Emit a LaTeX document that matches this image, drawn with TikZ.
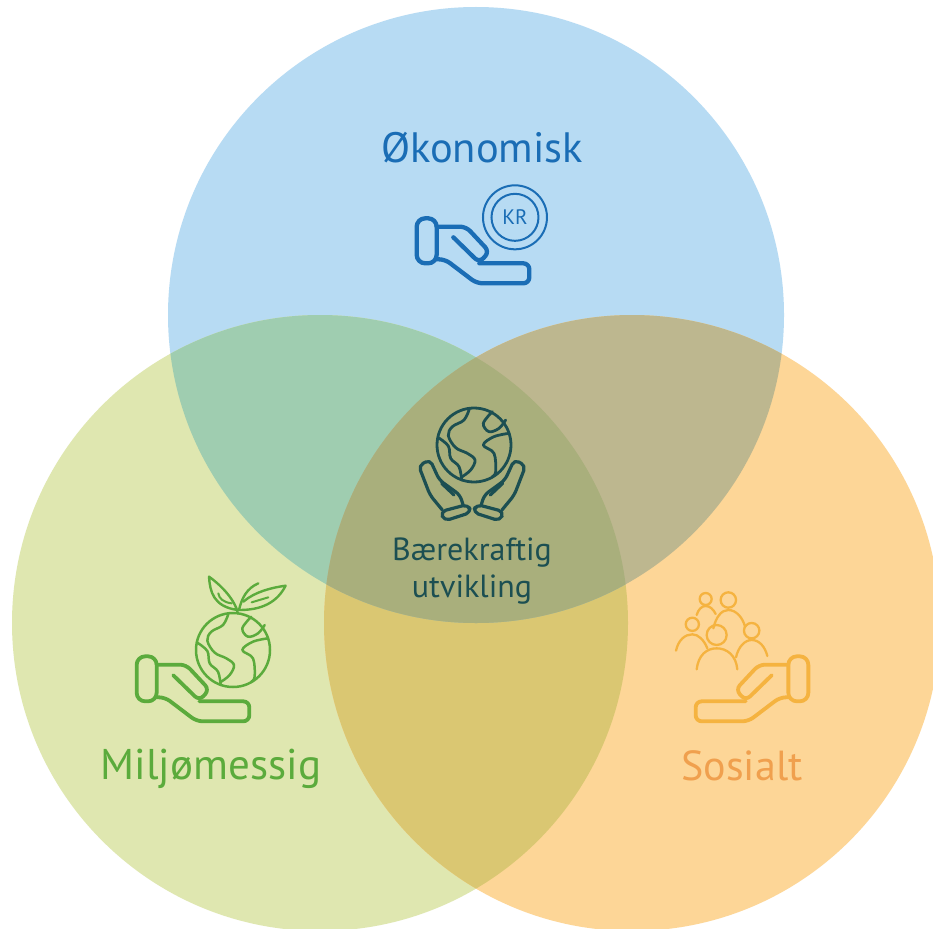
\documentclass[tikz,border=0pt]{standalone}
\usepackage{fontspec}
\setmainfont{PT Sans}
\definecolor{ctop}{HTML}{B7DBF3}
\definecolor{cleft}{HTML}{DFE7B0}
\definecolor{cright}{HTML}{FDD697}
\definecolor{ctl}{HTML}{9FCDB0}
\definecolor{ctr}{HTML}{BDB78F}
\definecolor{clr}{HTML}{DAC772}
\definecolor{cmid}{HTML}{A9AF7C}
\definecolor{tblue}{HTML}{1A6DB5}
\definecolor{tgreen}{HTML}{5BAB3C}
\definecolor{torange}{HTML}{F0A04E}
\definecolor{iorange}{HTML}{F5B340}
\definecolor{tdark}{HTML}{1C4F52}
\tikzset{
  line/.style={line cap=round,line join=round},
  label/.style={inner sep=0pt,anchor=center},
}
% open hand, drawn in local units
\newcommand{\openhand}[1]{%
  \draw[line,#1,rounded corners=8.5pt] (140,295) rectangle (200,430);
  \draw[line,#1,rounded corners=6pt] (200,320) -- (288,320) -- (358,395) -- (328,428) -- (250,352);
  \draw[line,#1,rounded corners=6pt] (328,430) -- (478,430) -- (478,490) -- (320,490) -- (225,418) -- (200,418);
}
% cupped hand of the centre icon, in local units
\newcommand{\cupped}{%
  \draw[line,tdark,line width=3.2pt,rounded corners=5pt] (187,345) -- (150,300) -- (116,212) -- (150,194) -- (178,255) -- (240,300) -- (250,332);
  \draw[line,tdark,line width=3.2pt] (185,265) -- (222,300);
  \draw[line,tdark,line width=3.2pt,rounded corners=5.5pt] (181,350) -- (264,328) -- (274,352) -- (193,378) -- cycle;
}
% globe, drawn in local units about the origin
\newcommand{\globelines}[1]{%
  \draw[line,#1] (0,0) circle[radius=37pt];
  \draw[line,#1] plot[smooth,tension=.6] coordinates {(-14,-108) (-30,-75) (-65,-55) (-77,-28) (-55,8) (-20,25) (3,45) (-10,75) (-37,96)};
  \draw[line,#1] plot[smooth,tension=.6] coordinates {(-107,-22) (-77,3) (-70,40) (-45,65) (-37,105)};
  \draw[line,#1] plot[smooth,tension=.6] coordinates {(55,-100) (28,-65) (45,-40) (75,-50) (95,-75)};
  \draw[line,#1] plot[smooth,tension=.6] coordinates {(105,-35) (60,-25) (28,0) (60,25) (65,80) (55,95)};
}
\begin{document}
\begin{tikzpicture}[x=1pt,y=-1pt]
\useasboundingbox (0,0) rectangle (933,928);
\fill[white] (0,0) rectangle (933,928);
\coordinate (T) at (476,315);
\coordinate (L) at (320,623);
\coordinate (R) at (632,623);
\begin{scope}
\clip (0,0) rectangle (933,928);
\fill[ctop] (T) circle[radius=308pt];
\fill[cleft] (L) circle[radius=308pt];
\fill[cright] (R) circle[radius=308pt];
\begin{scope}
 \clip (L) circle[radius=308pt];
 \fill[clr] (R) circle[radius=308pt];
\end{scope}
\begin{scope}
 \clip (T) circle[radius=308pt];
 \fill[ctl] (L) circle[radius=308pt];
 \fill[ctr] (R) circle[radius=308pt];
 \clip (L) circle[radius=308pt];
 \fill[cmid] (R) circle[radius=308pt];
\end{scope}
\end{scope}
% labels
\node[label,text=tblue,font=\fontsize{42.5}{42.5}\selectfont] (oko) at (482,148) {Økonomisk};
\node[label,text=tgreen,font=\fontsize{43}{43}\selectfont] (mil) at (211,769) {Miljømessig};
\node[label,text=torange,font=\fontsize{42}{42}\selectfont] (sos) at (742,766) {Sosialt};
\node[label,text=tdark,font=\fontsize{32}{32}\selectfont] (bae) at (472,553) {Bærekraftig};
\node[label,text=tdark,font=\fontsize{32}{32}\selectfont] (utv) at (472,590) {utvikling};
% blue icon
\begin{scope}[shift={(370,120)},x=.3333pt,y=-.3333pt]
 \openhand{tblue,line width=4.3pt}
 \draw[tblue,line width=2pt] (435,292) circle[radius=32pt];
 \draw[tblue,line width=2pt] (435,292) circle[radius=23.5pt];
\end{scope}
\node[label,text=tblue,font=\fontsize{21}{21}\selectfont] (kr) at (515,217) {KR};
% green icon
\begin{scope}[shift={(90,558)},x=.3333pt,y=-.3333pt]
 \openhand{tgreen,line width=3.8pt}
\end{scope}
\begin{scope}[shift={(233,650)},x=.3333pt,y=-.3333pt]
 \globelines{tgreen,line width=2.5pt}
\end{scope}
\begin{scope}[shift={(95,565)},x=.3333pt,y=-.3333pt]
 \draw[line,tgreen,line width=2.4pt] (428,145) .. controls (428,130) and (405,80) .. (342,35) .. controls (345,80) and (355,125) .. (428,135);
 \draw[line,tgreen,line width=2pt] (370,85) .. controls (372,100) and (385,112) .. (410,115);
 \draw[line,tgreen,line width=2.4pt] (432,135) .. controls (480,135) and (540,125) .. (572,62) .. controls (530,68) and (480,80) .. (445,110);
 \draw[line,tgreen,line width=2.4pt] (432,135) .. controls (440,100) and (455,70) .. (490,55);
 \draw[line,tgreen,line width=2pt] (470,112) -- (520,97);
\end{scope}
% orange icon
\begin{scope}[shift={(855,558)},x=-.3333pt,y=-.3333pt]
 \openhand{iorange,line width=3.8pt}
\end{scope}
\begin{scope}[shift={(660,580)},x=.3333pt,y=-.3333pt]
 \foreach \px/\py/\pr in {137/57/6,205/60/7.7,97/133/6.6,170/165/10,275/152/7.7}
   \draw[iorange,line width=2.3pt] (\px,\py) circle[radius=\pr pt];
 \draw[line,iorange,line width=2.3pt] (110,268) .. controls (115,225) and (140,205) .. (170,205) .. controls (200,205) and (228,225) .. (232,268);
 \draw[line,iorange,line width=2.3pt] (48,212) .. controls (55,180) and (75,163) .. (97,163) .. controls (115,163) and (132,180) .. (142,205);
 \draw[line,iorange,line width=2.3pt] (228,232) .. controls (235,200) and (255,180) .. (275,180) .. controls (298,180) and (315,200) .. (322,228);
 \draw[line,iorange,line width=2.3pt] (110,105) .. controls (115,88) and (125,78) .. (137,78) .. controls (150,78) and (160,88) .. (167,102);
 \draw[line,iorange,line width=2.3pt] (160,145) .. controls (168,110) and (185,90) .. (205,90) .. controls (228,90) and (248,112) .. (255,140);
\end{scope}
% centre icon
\begin{scope}[shift={(474,445)},x=.3333pt,y=-.3333pt]
 \globelines{tdark,line width=2.8pt}
\end{scope}
\begin{scope}[shift={(380,395)},x=.3333pt,y=-.3333pt]
 \cupped
\end{scope}
\begin{scope}[shift={(564.3,395)},x=-.3333pt,y=-.3333pt]
 \cupped
\end{scope}
\end{tikzpicture}
\end{document}
